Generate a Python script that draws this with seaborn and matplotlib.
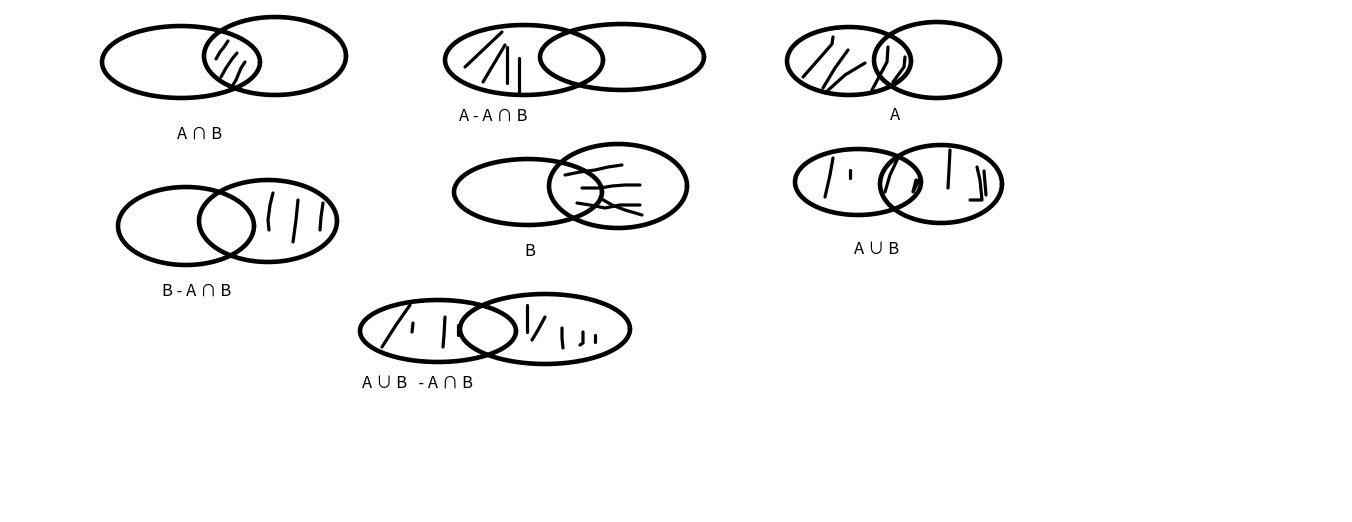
import numpy as np
import pandas as pd
import seaborn as sns
import matplotlib
matplotlib.use('Agg')
import matplotlib.pyplot as plt

# two ellipses per diagram (pixel coords of the sketch)
ell_cx = [181, 275, 524, 622, 849, 937, 186, 268, 528, 618, 858, 941, 438, 545]
ell_cy = [62, 56, 60, 57, 61, 60, 226, 221, 192, 186, 182, 184, 331, 329]
ell_rx = [79, 71, 79, 82, 62, 63, 68, 69, 74, 69, 63, 61, 78, 85]
ell_ry = [36, 39, 35, 33, 34, 38, 39, 41, 33, 42, 33, 39, 31, 35]

# labels under each diagram
labels = ['A ∩ B', 'A - A ∩ B', 'A', 'B - A ∩ B', 'B', 'A ∪ B', 'A ∪ B   - A ∩ B']
label_x = [200, 493, 895, 197, 530, 877, 417]
label_y = [134, 116, 115, 291, 251, 250, 383]

# hand drawn shading strokes
strokes_x = [
    [228, 224, 220, 216], [237, 232, 226, 221], [245, 241, 236, 230],
    [465, 502], [483, 505], [507, 507], [519, 519],
    [833, 832, 818, 803], [848, 835, 823], [865, 845, 825], [888, 887, 872], [905, 904, 893],
    [273, 270, 268, 269], [298, 296, 293], [323, 321, 320],
    [565, 580, 595, 608, 622], [582, 600, 612, 625, 640], [577, 590, 605, 620, 640], [600, 612, 625, 642],
    [833, 830, 825], [850, 850], [898, 890, 885], [916, 913, 920], [950, 949, 948], [977, 980, 982, 970], [984, 986],
    [410, 396, 382], [413, 412], [445, 444, 443], [458, 458], [527, 527], [545, 538, 532], [562, 562, 563],
    [583, 583, 580], [595, 595],
]
strokes_y = [
    [41, 47, 52, 59], [53, 59, 68, 77], [62, 68, 80, 90],
    [67, 32], [82, 45], [47, 83], [58, 95],
    [37, 44, 60, 77], [50, 68, 88], [63, 75, 93], [47, 62, 90], [57, 67, 82],
    [193, 205, 220, 230], [200, 220, 242], [203, 217, 230],
    [175, 172, 170, 167, 165], [188, 188, 186, 185, 185], [203, 205, 208, 205, 205], [198, 205, 210, 215],
    [158, 175, 197], [170, 178], [158, 175, 192], [180, 192, 178], [150, 170, 188], [167, 180, 200, 200], [171, 195],
    [305, 325, 347], [323, 332], [317, 335, 347], [325, 335], [305, 332], [317, 330, 340], [328, 338, 348],
    [332, 343, 345], [335, 342],
]

t = np.linspace(0, 2 * np.pi, 200)
rows = []
for i in range(len(ell_cx)):
    for k, a in enumerate(t):
        rows.append({'shape': i, 'order': k,
                     'x': ell_cx[i] + ell_rx[i] * np.cos(a),
                     'y': ell_cy[i] + ell_ry[i] * np.sin(a)})
ell_df = pd.DataFrame(rows)

rows = []
for i, (xs, ys) in enumerate(zip(strokes_x, strokes_y)):
    for k, (x, y) in enumerate(zip(xs, ys)):
        rows.append({'stroke': i, 'order': k, 'x': x, 'y': y})
st_df = pd.DataFrame(rows)

sns.set_style('white')
plt.rcParams['font.family'] = ['Noto Sans CJK SC', 'DejaVu Sans']

fig = plt.figure(figsize=(13.52, 5.22), dpi=100)
ax = fig.add_axes([0, 0, 1, 1])

sns.lineplot(data=ell_df, x='x', y='y', units='shape', estimator=None, sort=False,
             color='black', linewidth=3.3, ax=ax, legend=False)
sns.lineplot(data=st_df, x='x', y='y', units='stroke', estimator=None, sort=False,
             color='black', linewidth=2.3, ax=ax, legend=False,
             solid_capstyle='round', solid_joinstyle='round')

for lab, x, y in zip(labels, label_x, label_y):
    ax.text(x, y, lab, ha='center', va='center', fontsize=12, color='black')

ax.set_xlim(0, 1352)
ax.set_ylim(522, 0)
ax.set_axis_off()

plt.savefig('out.png', dpi=100, facecolor='white')
